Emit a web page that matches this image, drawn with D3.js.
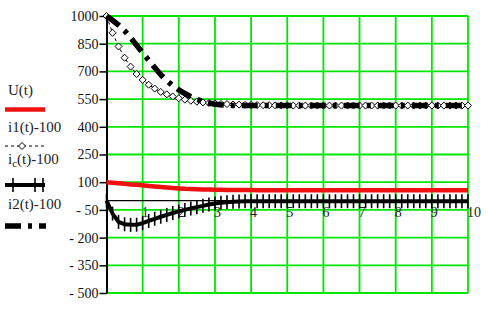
<!DOCTYPE html>
<html><head><meta charset="utf-8">
<script src="https://cdn.jsdelivr.net/npm/d3@7"></script>
<style>html,body{margin:0;padding:0;background:#fff;} svg{display:block;}</style>
</head><body><svg id="c" width="488" height="316"></svg>
<script>
const timeValues = [0,0.167,0.333,0.5,0.667,0.833,1,1.167,1.333,1.5,1.667,1.833,
  2,2.167,2.333,2.5,2.667,2.833,3,3.167,3.333,3.5,3.667,3.833,
  4,4.167,4.333,4.5,4.667,4.833,5,5.167,5.333,5.5,5.667,5.833,
  6,6.167,6.333,6.5,6.667,6.833,7,7.167,7.333,7.5,7.667,7.833,
  8,8.167,8.333,8.5,8.667,8.833,9,9.167,9.333,9.5,9.667,9.833,10];
const uValues = [100,97,94,91,88,86,83,80,77,74,71,68,66,64,63,62,61,60,59,58.5,58,58,57.5,57.5,57.5,
  57,57,57,57,57,57,57,57,57,57,57,57,
  57,57,57,57,57,57,57,57,57,57,57,57,
  57,57,57,57,57,57,57,57,57,57,57,57];
const i1Values = [1000,909,835,774,726,686,654,628,607,589,576,564,555,547,541,536,532,529,527,524,523,521,520,519,518,518,517,517,516,516,516,
  515,515,515,515,515,515,515,515,515,515,
  515,515,515,515,515,515,515,515,515,515,
  515,515,515,515,515,515,515,515,515,515];
const i2Values = [1000,977,951,920,882,842,800,760,721,682,650,623,600,580,563,548,537,529,522,519,517,516,
  515,515,515,515,515,515,515,515,515,515,515,515,515,
  515,515,515,515,515,515,515,515,515,515,515,515,515,
  515,515,515,515,515,515,515,515,515,515,515,515,515];
const icValues = [0,-70,-115,-128,-131,-130,-122,-110,-98,-87,-77,-67,-58,-50,-42,-35,-28,-21,-15,-11,-8,-6,-4,
  -3,-3,-3,-3,-3,-3,-3,-3,-3,-3,-3,-3,
  -3,-3,-3,-3,-3,-3,-3,-3,-3,-3,-3,-3,
  -3,-3,-3,-3,-3,-3,-3,-3,-3,-3,-3,-3,-3,-3];
const yTicks = [1000,850,700,550,400,250,100,-50,-200,-350,-500];
const xTicks = [1,2,3,4,5,6,7,8,9,10];

const svg = d3.select("#c");
const x = d3.scaleLinear().domain([0,10]).range([106.5,468]);
const y = d3.scaleLinear().domain([-500,1000]).range([293,16]);
const green = "#00e600";
const font = "'Liberation Serif', 'Times New Roman', serif";

// grid
svg.append("g").selectAll("line").data(yTicks).join("line")
  .attr("x1", x(0)).attr("x2", x(10)).attr("y1", d => y(d)).attr("y2", d => y(d))
  .attr("stroke", green).attr("stroke-width", 1.8);
svg.append("g").selectAll("line").data(xTicks).join("line")
  .attr("x1", d => x(d)).attr("x2", d => x(d)).attr("y1", y(1000)).attr("y2", y(-500))
  .attr("stroke", green).attr("stroke-width", 1.8);

// x axis line at 0
svg.append("line").attr("x1", x(0)).attr("x2", x(10)).attr("y1", y(0)).attr("y2", y(0))
  .attr("stroke", "#000").attr("stroke-width", 1.2);

// y axis
const yAxis = d3.axisLeft(y).tickValues(yTicks).tickSize(7).tickSizeOuter(0).tickPadding(1)
  .tickFormat(d => d < 0 ? "- " + Math.abs(d) : String(d));
svg.append("g").attr("transform", `translate(${x(0)},0)`).call(yAxis)
  .call(g => g.select(".domain").attr("stroke-width", 2).attr("stroke", "#000"))
  .call(g => g.selectAll(".tick line").attr("stroke-width", 1.5).attr("stroke", "#000"))
  .call(g => g.selectAll("text").attr("font-family", font).attr("font-size", 14).attr("fill", "#111"));

// x labels
svg.append("g").selectAll("text").data(xTicks).join("text")
  .attr("x", d => x(d) - 1).attr("y", 217)
  .attr("font-family", font).attr("font-size", 14).attr("fill", "#222")
  .text(d => d);

const line = d3.line().x((d, i) => x(timeValues[i])).y(d => y(d));

// U(t)
svg.append("path").attr("d", line(uValues)).attr("fill", "none")
  .attr("stroke", "#f01010").attr("stroke-width", 4.5);

// i1
svg.append("path").attr("d", line(i1Values)).attr("fill", "none")
  .attr("stroke", "#000").attr("stroke-width", 1).attr("stroke-dasharray", "3,3");
const diamond = "M0,-3.5L3.5,0L0,3.5L-3.5,0Z";
svg.append("g").selectAll("path").data(i1Values).join("path")
  .attr("transform", (d, i) => `translate(${x(timeValues[i])},${y(d)})`)
  .attr("d", diamond).attr("fill", "#fff").attr("stroke", "#000").attr("stroke-width", 1);

// ic
svg.append("path").attr("d", line(icValues)).attr("fill", "none")
  .attr("stroke", "#000").attr("stroke-width", 4);
svg.append("g").selectAll("line").data(icValues).join("line")
  .attr("x1", (d, i) => x(timeValues[i])).attr("x2", (d, i) => x(timeValues[i]))
  .attr("y1", d => y(d) - 7).attr("y2", d => y(d) + 7)
  .attr("stroke", "#000").attr("stroke-width", 1.6);

// i2
svg.append("path").attr("d", line(i2Values)).attr("fill", "none")
  .attr("stroke", "#000").attr("stroke-width", 5.5).attr("stroke-dasharray", "16,7,4,7");

// legend
const lg = svg.append("g").attr("font-family", font).attr("font-size", 15).attr("fill", "#222");
lg.append("text").attr("x", 8).attr("y", 95).text("U(t)");
lg.append("line").attr("x1", 5).attr("x2", 45).attr("y1", 109.5).attr("y2", 109.5)
  .attr("stroke", "#f01010").attr("stroke-width", 4.5);

lg.append("text").attr("x", 8).attr("y", 132).text("i1(t)-100");
lg.append("line").attr("x1", 5).attr("x2", 44).attr("y1", 146).attr("y2", 146)
  .attr("stroke", "#000").attr("stroke-width", 1).attr("stroke-dasharray", "3,3");
lg.append("path").attr("transform", "translate(22,146)").attr("d", diamond)
  .attr("fill", "#fff").attr("stroke", "#000");

const tc = lg.append("text").attr("x", 8).attr("y", 164);
tc.append("tspan").text("i");
tc.append("tspan").attr("font-size", 11).attr("dy", 3).text("c");
tc.append("tspan").attr("dy", -3).text("(t)-100");
lg.append("line").attr("x1", 5).attr("x2", 45).attr("y1", 185).attr("y2", 185)
  .attr("stroke", "#000").attr("stroke-width", 4);
[13, 35, 43].forEach(px => lg.append("line").attr("x1", px).attr("x2", px)
  .attr("y1", 178).attr("y2", 192).attr("stroke", "#000").attr("stroke-width", 1.6));

lg.append("text").attr("x", 8).attr("y", 209).text("i2(t)-100");
lg.append("line").attr("x1", 5).attr("x2", 46).attr("y1", 226).attr("y2", 226)
  .attr("stroke", "#000").attr("stroke-width", 5.5).attr("stroke-dasharray", "16,7,4,7");
</script></body></html>
